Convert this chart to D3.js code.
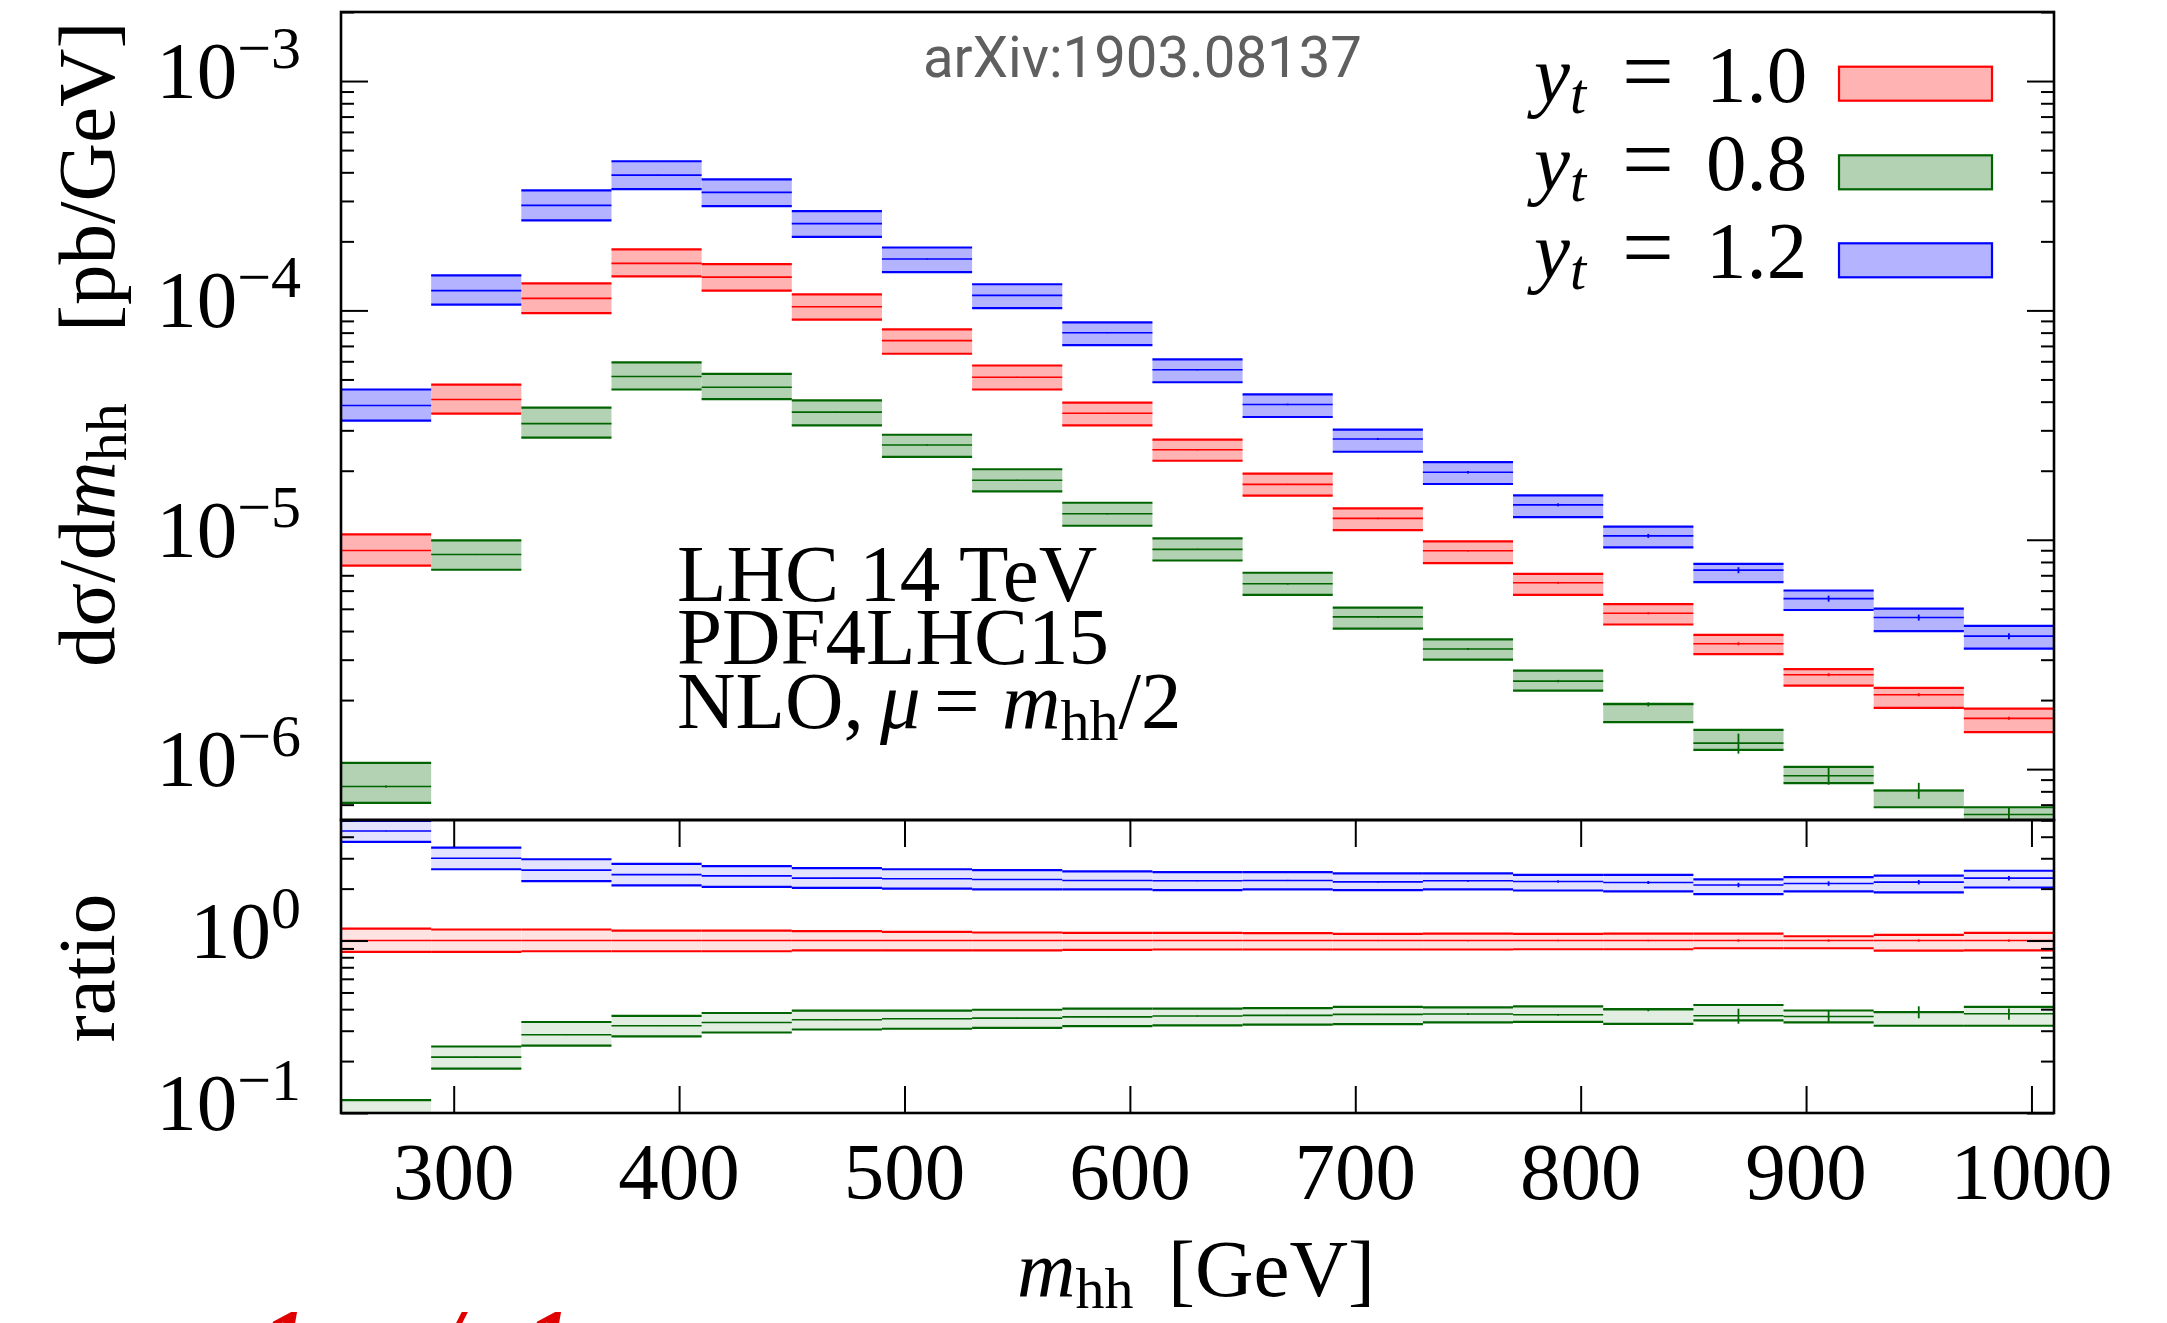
<!DOCTYPE html>
<html><head><meta charset="utf-8">
<script src="https://cdn.jsdelivr.net/npm/d3@7"></script>
<style>
html,body{margin:0;padding:0;background:#fff;}
svg{display:block;}
</style></head><body>
<script>
// ---------------- data ----------------
const binLo = [250,290,330,370,410,450,490,530,570,610,650,690,730,770,810,850,890,930,970];
const binHi = [290,330,370,410,450,490,530,570,610,650,690,730,770,810,850,890,930,970,1010];

// y_t = 1.0 (red)
const redC  = [8.98e-6,4.09e-5,1.128e-4,1.603e-4,1.397e-4,1.038e-4,7.38e-5,5.11e-5,3.56e-5,2.47e-5,1.744e-5,1.239e-5,8.95e-6,6.49e-6,4.78e-6,3.52e-6,2.58e-6,2.11e-6,1.665e-6];
const redLo = [7.72e-6,3.55e-5,9.73e-5,1.407e-4,1.219e-4,9.11e-5,6.47e-5,4.52e-5,3.15e-5,2.21e-5,1.556e-5,1.102e-5,7.91e-6,5.75e-6,4.27e-6,3.17e-6,2.31e-6,1.85e-6,1.451e-6];
const redHi = [1.055e-5,4.75e-5,1.312e-4,1.846e-4,1.592e-4,1.175e-4,8.26e-5,5.75e-5,3.96e-5,2.73e-5,1.941e-5,1.370e-5,9.83e-6,7.10e-6,5.24e-6,3.85e-6,2.73e-6,2.26e-6,1.834e-6];
const redErr = [0.004,0.004,0.004,0.004,0.004,0.004,0.004,0.005,0.005,0.006,0.006,0.008,0.008,0.01,0.01,0.015,0.015,0.015,0.015];

// y_t = 0.8 (green)
const greenC  = [8.40e-7,8.63e-6,3.21e-5,5.15e-5,4.62e-5,3.60e-5,2.59e-5,1.817e-5,1.298e-5,9.08e-6,6.43e-6,4.61e-6,3.34e-6,2.42e-6,1.916e-6,1.298e-6,9.35e-7,8.07e-7,6.34e-7];
const greenLo = [7.12e-7,7.40e-6,2.79e-5,4.52e-5,4.10e-5,3.15e-5,2.30e-5,1.627e-5,1.151e-5,8.12e-6,5.75e-6,4.10e-6,3.00e-6,2.20e-6,1.604e-6,1.214e-6,8.69e-7,6.82e-7,5.58e-7];
const greenHi = [1.065e-6,9.93e-6,3.77e-5,5.93e-5,5.29e-5,4.05e-5,2.87e-5,2.03e-5,1.450e-5,1.014e-5,7.18e-6,5.06e-6,3.68e-6,2.69e-6,1.928e-6,1.484e-6,1.023e-6,8.07e-7,6.82e-7];
const greenErr = [0.01,0.005,0.004,0.004,0.004,0.004,0.005,0.005,0.006,0.006,0.008,0.008,0.01,0.012,0.02,0.10,0.085,0.08,0.075];

// y_t = 1.2 (blue)
const blueC  = [3.85e-5,1.22e-4,2.87e-4,3.89e-4,3.27e-4,2.39e-4,1.675e-4,1.163e-4,7.99e-5,5.51e-5,3.89e-5,2.75e-5,1.97e-5,1.42e-5,1.04e-5,7.37e-6,5.54e-6,4.58e-6,3.80e-6];
const blueLo = [3.31e-5,1.06e-4,2.47e-4,3.38e-4,2.85e-4,2.09e-4,1.47e-4,1.023e-4,7.06e-5,4.86e-5,3.43e-5,2.42e-5,1.75e-5,1.256e-5,9.26e-6,6.53e-6,4.94e-6,4.00e-6,3.35e-6];
const blueHi = [4.52e-5,1.42e-4,3.34e-4,4.47e-4,3.73e-4,2.71e-4,1.88e-4,1.30e-4,8.86e-5,6.11e-5,4.30e-5,3.02e-5,2.18e-5,1.56e-5,1.14e-5,7.85e-6,6.01e-6,5.01e-6,4.21e-6];
const blueErr = [0.004,0.004,0.003,0.003,0.003,0.003,0.004,0.004,0.005,0.006,0.008,0.01,0.012,0.015,0.02,0.03,0.03,0.03,0.03];

// ratio panel (to y_t = 1.0 central)
const rRedC  = [1,1,1,1,1,1,1,1,1,1,1,1,1,1,1,1,1,1,1];
const rRedLo = [0.860,0.860,0.867,0.867,0.867,0.878,0.878,0.878,0.883,0.887,0.887,0.887,0.887,0.890,0.890,0.902,0.902,0.875,0.878];
const rRedHi = [1.174,1.159,1.159,1.143,1.143,1.133,1.124,1.113,1.109,1.109,1.103,1.094,1.098,1.094,1.098,1.098,1.059,1.079,1.109];
const rGreenC  = [0.0935,0.211,0.284,0.3205,0.335,0.347,0.352,0.355,0.361,0.365,0.368,0.373,0.375,0.371,0.397,0.366,0.363,0.385,0.376];
const rGreenLo = [0.079,0.181,0.246,0.278,0.293,0.305,0.308,0.312,0.319,0.322,0.325,0.328,0.335,0.338,0.329,0.344,0.335,0.3205,0.3205];
const rGreenHi = [0.1186,0.243,0.337,0.366,0.380,0.392,0.392,0.397,0.4025,0.4025,0.406,0.412,0.4095,0.415,0.401,0.423,0.393,0.385,0.412];
const rBlueC  = [4.32,3.00,2.56,2.41,2.37,2.30,2.28,2.26,2.23,2.22,2.23,2.19,2.22,2.20,2.17,2.10,2.14,2.18,2.30];
const rBlueLo = [3.73,2.59,2.21,2.09,2.05,2.02,2.00,1.98,1.98,1.96,1.98,1.96,1.98,1.95,1.93,1.86,1.93,1.90,2.03];
const rBlueHi = [4.94,3.46,2.96,2.78,2.70,2.63,2.59,2.56,2.52,2.49,2.49,2.45,2.45,2.40,2.40,2.26,2.33,2.38,2.54];

// ticks / labels
const xTickValues = [300,400,500,600,700,800,900,1000];
const mainMajorVals = [1e-6,1e-5,1e-4,1e-3];
const mainMajorExp  = ["\u22126","\u22125","\u22124","\u22123"];
const ratioMajorVals = [0.1,1];
const ratioMajorExp  = ["\u22121","0"];
const legendValues = ["1.0","0.8","1.2"];

// ---------------- layout ----------------
const W = 2167, H = 1323;
const PL = 341, PR = 2054, PT = 12, PM = 820, PB = 1113;
const SERIF = "'Liberation Serif','DejaVu Serif',serif";
const FS = 81, FSS = 58;

const x = d3.scaleLinear().domain([250, 1010]).range([PL, PR]);
const yMain = d3.scaleLog().domain([6e-7, 2e-3]).range([PM, PT]);
const yRat = d3.scaleLog().domain([0.1, 5]).range([PB, PM]);

const svg = d3.select("body").append("svg")
  .attr("width", W).attr("height", H).attr("viewBox", `0 0 ${W} ${H}`);
svg.append("rect").attr("width", W).attr("height", H).attr("fill", "#fff");

const defs = svg.append("defs");
defs.append("clipPath").attr("id", "clipMain").append("rect")
  .attr("x", PL).attr("y", PT).attr("width", PR - PL).attr("height", PM - PT);
defs.append("clipPath").attr("id", "clipRat").append("rect")
  .attr("x", PL).attr("y", PM).attr("width", PR - PL).attr("height", PB - PM);

const isMajor = v => Math.abs(Math.log10(v) - Math.round(Math.log10(v))) < 1e-9;

function yTicks(scale, majorLen, minorLen) {
  const all = scale.ticks();
  const minor = all.filter(v => !isMajor(v));
  const major = all.filter(v => isMajor(v));
  const g = svg.append("g");
  [[minor, minorLen], [major, majorLen]].forEach(([vals, len]) => {
    g.append("g").attr("transform", `translate(${PL},0)`)
      .call(d3.axisLeft(scale).tickValues(vals).tickSize(-len).tickFormat(""));
    g.append("g").attr("transform", `translate(${PR},0)`)
      .call(d3.axisRight(scale).tickValues(vals).tickSize(-len).tickFormat(""));
  });
  g.selectAll(".domain").remove();
  g.selectAll(".tick line").attr("stroke", "#000").attr("stroke-width", 2);
  return g;
}

const series = [
  { c: redC, lo: redLo, hi: redHi, rc: rRedC, rlo: rRedLo, rhi: rRedHi, err: redErr,
    line: "#ff0000", fill: "#ffb3b3", rfill: "#ffe3e3" },
  { c: greenC, lo: greenLo, hi: greenHi, rc: rGreenC, rlo: rGreenLo, rhi: rGreenHi, err: greenErr,
    line: "#006400", fill: "#b3d1b3", rfill: "#e3eee3" },
  { c: blueC, lo: blueLo, hi: blueHi, rc: rBlueC, rlo: rBlueLo, rhi: rBlueHi, err: blueErr,
    line: "#0000ff", fill: "#b3b3ff", rfill: "#e3e3ff" }
];

function drawBands(g, scale, c, lo, hi, err, fill, line) {
  const idx = d3.range(binLo.length);
  g.selectAll(null).data(idx).join("rect")
    .attr("x", i => x(binLo[i])).attr("width", i => x(binHi[i]) - x(binLo[i]))
    .attr("y", i => scale(hi[i])).attr("height", i => scale(lo[i]) - scale(hi[i]))
    .attr("fill", fill);
  [[hi, 2.2], [lo, 2.2], [c, 1.6]].forEach(([arr, w]) => {
    g.selectAll(null).data(idx).join("line")
      .attr("x1", i => x(binLo[i])).attr("x2", i => x(binHi[i]))
      .attr("y1", i => scale(arr[i])).attr("y2", i => scale(arr[i]))
      .attr("stroke", line).attr("stroke-width", w);
  });
  g.selectAll(null).data(idx).join("line")
    .attr("x1", i => x((binLo[i] + binHi[i]) / 2)).attr("x2", i => x((binLo[i] + binHi[i]) / 2))
    .attr("y1", i => scale(c[i] * (1 + err[i]))).attr("y2", i => scale(c[i] * (1 - err[i])))
    .attr("stroke", line).attr("stroke-width", 1.8);
}

// ---- main panel ----
yTicks(yMain, 27, 13);
const gMain = svg.append("g").attr("clip-path", "url(#clipMain)");
series.forEach(s => drawBands(gMain, yMain, s.c, s.lo, s.hi, s.err, s.fill, s.line));

// ---- ratio panel ----
const gRat = svg.append("g").attr("clip-path", "url(#clipRat)");
series.forEach(s => drawBands(gRat, yRat, s.rc, s.rlo, s.rhi, s.err, s.rfill, s.line));
yTicks(yRat, 27, 13);

// x ticks on ratio panel (top and bottom)
const gx = svg.append("g");
gx.append("g").attr("transform", `translate(0,${PM})`)
  .call(d3.axisBottom(x).tickValues(xTickValues).tickSize(27).tickFormat(""));
gx.append("g").attr("transform", `translate(0,${PB})`)
  .call(d3.axisTop(x).tickValues(xTickValues).tickSize(27).tickFormat(""));
gx.selectAll(".domain").remove();
gx.selectAll(".tick line").attr("stroke", "#000").attr("stroke-width", 2);

// frames
svg.append("rect").attr("x", PL).attr("y", PT).attr("width", PR - PL).attr("height", PM - PT)
  .attr("fill", "none").attr("stroke", "#000").attr("stroke-width", 2.6);
svg.append("rect").attr("x", PL).attr("y", PM).attr("width", PR - PL).attr("height", PB - PM)
  .attr("fill", "none").attr("stroke", "#000").attr("stroke-width", 2.6);

// ---- tick labels ----
const txt = svg.append("g").attr("font-family", SERIF).attr("fill", "#000");
function powLabel(vals, exps, scale) {
  vals.forEach((v, i) => {
    const t = txt.append("text").attr("x", 301).attr("y", scale(v) + 17)
      .attr("text-anchor", "end").attr("font-size", FS);
    t.append("tspan").text("10");
    t.append("tspan").attr("dy", -30).attr("font-size", 60).text(exps[i]);
  });
}
powLabel(mainMajorVals, mainMajorExp, yMain);
powLabel(ratioMajorVals, ratioMajorExp, yRat);

txt.selectAll(null).data(xTickValues).join("text")
  .attr("x", d => x(d)).attr("y", 1199).attr("text-anchor", "middle")
  .attr("font-size", FS).text(d => d);

// x axis title
const xt = txt.append("text").attr("x", 1017).attr("y", 1296).attr("font-size", FS);
xt.append("tspan").attr("font-style", "italic").text("m");
xt.append("tspan").attr("dy", 12).attr("font-size", FSS).text("hh");
xt.append("tspan").attr("x", 1168).attr("dy", -12).text("[GeV]");

// y axis title (main)
const yt = txt.append("text").attr("transform", "translate(114,667) rotate(-90)").attr("x", 0).attr("font-size", FS);
yt.append("tspan").text("d\u03c3/d");
yt.append("tspan").attr("font-style", "italic").text("m");
yt.append("tspan").attr("dy", 12).attr("font-size", FSS).text("hh");
yt.append("tspan").attr("x", 335).attr("dy", -12).text("[pb/GeV]");

// ratio title
txt.append("text").attr("transform", "translate(114,968) rotate(-90)")
  .attr("text-anchor", "middle").attr("font-size", FS).text("ratio");

// info block
const info = txt.append("g").attr("font-size", FS);
info.append("text").attr("x", 677).attr("y", 601).text("LHC 14 TeV");
info.append("text").attr("x", 677).attr("y", 664).text("PDF4LHC15");
const l3 = info.append("text").attr("x", 677).attr("y", 728);
l3.append("tspan").text("NLO,");
l3.append("tspan").attr("x", 880).attr("font-style", "italic").text("\u03bc");
l3.append("tspan").attr("x", 934).text("=");
l3.append("tspan").attr("x", 1002).attr("font-style", "italic").text("m");
l3.append("tspan").attr("dy", 12).attr("font-size", FSS).text("hh");
l3.append("tspan").attr("dy", -12).text("/2");

// arXiv tag
svg.append("text").attr("x", 923).attr("y", 77).attr("font-family", "Roboto, 'Open Sans', sans-serif")
  .attr("font-size", 57).attr("fill", "#5f5f5f").attr("textLength", 439).attr("lengthAdjust", "spacingAndGlyphs")
  .text("arXiv:1903.08137");

// legend
const legY = [101.7, 190.3, 278.3];
series.forEach((s, i) => {
  const t = txt.append("text").attr("x", 1534).attr("y", legY[i]).attr("font-size", FS);
  t.append("tspan").attr("font-style", "italic").text("y");
  t.append("tspan").attr("dy", 11).attr("font-size", FSS).attr("font-style", "italic").text("t");
  t.append("tspan").attr("x", 1622).attr("dy", -11).attr("font-size", 92).text("=");
  t.append("tspan").attr("x", 1706).text(legendValues[i]);
  svg.append("rect").attr("x", 1839).attr("y", legY[i] - 35).attr("width", 153).attr("height", 34)
    .attr("fill", s.fill).attr("stroke", s.line).attr("stroke-width", 2.2);
});

// cropped red text at bottom edge
const red = svg.append("text").attr("y", 1372).attr("font-family", SERIF).attr("font-size", 90)
  .attr("font-style", "italic").attr("font-weight", "bold").attr("fill", "#e00000");
red.append("tspan").attr("x", 262).text("1");
red.append("tspan").attr("x", 436).text("/");
red.append("tspan").attr("x", 526).text("1");
</script>
</body></html>
